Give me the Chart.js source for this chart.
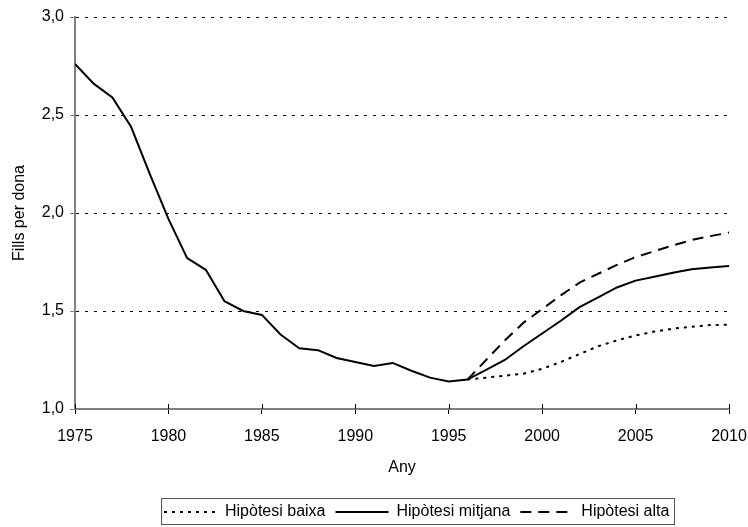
<!DOCTYPE html>
<html>
<head>
<meta charset="utf-8">
<script src="https://cdn.jsdelivr.net/npm/chart.js@4/dist/chart.umd.min.js"></script>
<style>
  html, body { margin: 0; padding: 0; background: #fff; }
  #wrap { width: 748px; height: 527px; }
</style>
</head>
<body>
<div id="wrap"><canvas id="tfr-chart"></canvas></div>
<script>
// Fecunditat: sèrie observada + tres hipòtesis de projecció
const anysObservats = [1975, 1976, 1977, 1978, 1979, 1980, 1981, 1982, 1983, 1984, 1985,
    1986, 1987, 1988, 1989, 1990, 1991, 1992, 1993, 1994, 1995, 1996,
    1997, 1998, 1999, 2000, 2001, 2002, 2003, 2004, 2005, 2006, 2007, 2008, 2009, 2010];
const mitjana = [2.76, 2.66, 2.59, 2.44, 2.20, 1.97, 1.77, 1.71, 1.55, 1.50, 1.48,
    1.38, 1.31, 1.30, 1.26, 1.24, 1.22, 1.235, 1.195, 1.16, 1.14, 1.15,
    1.20, 1.25, 1.32, 1.385, 1.45, 1.52, 1.57, 1.62, 1.655, 1.675, 1.695, 1.713, 1.722, 1.73];

const anysHipotesi = [1996, 1997, 1998, 1999, 2000, 2001, 2002, 2003, 2004, 2005, 2006, 2007, 2008, 2009, 2010];
const baixa = [1.15, 1.16, 1.17, 1.18, 1.205, 1.24, 1.28, 1.32, 1.35, 1.375, 1.395, 1.41, 1.42, 1.428, 1.43];
const alta = [1.15, 1.25, 1.35, 1.44, 1.51, 1.58, 1.645, 1.69, 1.735, 1.775, 1.805, 1.835, 1.862, 1.882, 1.90];

const etiquetesY = { 1: '1,0', 1.5: '1,5', 2: '2,0', 2.5: '2,5', 3: '3,0' };

const FONT = "'Liberation Sans', Arial, sans-serif";

function punts(anys, valors) {
    return anys.map((a, i) => ({ x: a, y: valors[i] }));
}

// Ajustos: posició de la llegenda, marques de l'eix X que creuen la línia i requadre de la llegenda
const extres = {
    id: 'extres',
    afterLayout(chart) {
        const lg = chart.legend;
        const pad = lg.options.labels.padding;
        const dy = 3;
        lg.left = 164 - pad;
        lg.top += dy;
        lg.bottom += dy;
    },
    afterDraw(chart) {
        const ctx = chart.ctx;
        const xs = chart.scales.x;
        ctx.save();
        ctx.strokeStyle = '#000';
        ctx.lineWidth = 1;
        xs.ticks.forEach(t => {
            const px = Math.round(xs.getPixelForValue(t.value)) + 0.5;
            ctx.beginPath();
            ctx.moveTo(px, xs.top);
            ctx.lineTo(px, xs.top - 5);
            ctx.stroke();
        });

        const boxes = chart.legend.legendHitBoxes;
        if (boxes && boxes.length) {
            const left = Math.min(...boxes.map(b => b.left));
            const right = Math.max(...boxes.map(b => b.left + b.width));
            const top = Math.min(...boxes.map(b => b.top));
            const bottom = Math.max(...boxes.map(b => b.top + b.height));
            ctx.strokeStyle = '#555';
            ctx.strokeRect(Math.round(left) - 2.5, Math.round(top) - 5.5,
                Math.round(right - left) + 8, Math.round(bottom - top) + 10);
        }
        ctx.restore();
    }
};

new Chart(document.getElementById('tfr-chart'), {
    type: 'line',
    data: {
        datasets: [
            {
                label: 'Hipòtesi baixa',
                data: punts(anysHipotesi, baixa),
                borderColor: '#000',
                backgroundColor: 'transparent',
                borderWidth: 2,
                borderDash: [3, 5],
                pointRadius: 0,
                pointStyle: 'line',
                tension: 0
            },
            {
                label: 'Hipòtesi mitjana',
                data: punts(anysObservats, mitjana),
                borderColor: '#000',
                backgroundColor: 'transparent',
                borderWidth: 2,
                borderDash: [],
                pointRadius: 0,
                pointStyle: 'line',
                tension: 0
            },
            {
                label: 'Hipòtesi alta',
                data: punts(anysHipotesi, alta),
                borderColor: '#000',
                backgroundColor: 'transparent',
                borderWidth: 2,
                borderDash: [11, 7],
                pointRadius: 0,
                pointStyle: 'line',
                tension: 0
            }
        ]
    },
    options: {
        responsive: true,
        maintainAspectRatio: false,
        animation: false,
        layout: {
            padding: { top: 17, right: 0, bottom: 0, left: 0 }
        },
        plugins: {
            tooltip: { enabled: false },
            legend: {
                display: true,
                position: 'bottom',
                align: 'start',
                labels: {
                    color: '#000',
                    font: { family: FONT, size: 16 },
                    usePointStyle: true,
                    pointStyleWidth: 53,
                    boxHeight: 10,
                    padding: 10,
                    // el traç de la mostra ha de seguir el patró de la sèrie
                    generateLabels: chart => {
                        const items = Chart.defaults.plugins.legend.labels.generateLabels(chart);
                        items.forEach(it => {
                            const ds = chart.data.datasets[it.datasetIndex];
                            it.lineDash = ds.borderDash || [];
                            it.lineWidth = ds.borderWidth;
                            it.strokeStyle = ds.borderColor;
                            it.fillStyle = 'transparent';
                        });
                        return items;
                    }
                }
            }
        },
        scales: {
            x: {
                type: 'linear',
                min: 1975,
                max: 2010,
                afterBuildTicks: s => { s.ticks = anysObservats.filter(a => a % 5 === 0).map(v => ({ value: v })); },
                afterFit: s => {
                    s.height = 82;
                    s.paddingRight = 19;
                },
                ticks: {
                    color: '#000',
                    font: { family: FONT, size: 16 },
                    padding: 13,
                    maxRotation: 0,
                    callback: v => String(v)
                },
                grid: {
                    drawOnChartArea: false,
                    tickLength: 5,
                    tickColor: '#000'
                },
                border: { color: '#808080', width: 2 },
                title: {
                    display: true,
                    text: 'Any',
                    color: '#000',
                    font: { family: FONT, size: 16 },
                    padding: { top: 8, bottom: 14 }
                }
            },
            y: {
                min: 1,
                max: 3,
                afterFit: s => { s.width = 75; },
                ticks: {
                    stepSize: 0.5,
                    color: '#000',
                    font: { family: FONT, size: 16 },
                    padding: 6,
                    callback: v => etiquetesY[v]
                },
                grid: {
                    color: c => (c.tick && c.tick.value === 1) ? 'transparent' : '#000',
                    tickColor: '#808080',
                    tickLength: 5,
                    lineWidth: 1
                },
                border: { color: '#808080', width: 2, dash: [3, 6] },
                title: {
                    display: true,
                    text: 'Fills per dona',
                    color: '#000',
                    font: { family: FONT, size: 16 },
                    padding: { top: 10, bottom: 0 }
                }
            }
        }
    },
    plugins: [extres]
});
</script>
</body>
</html>
